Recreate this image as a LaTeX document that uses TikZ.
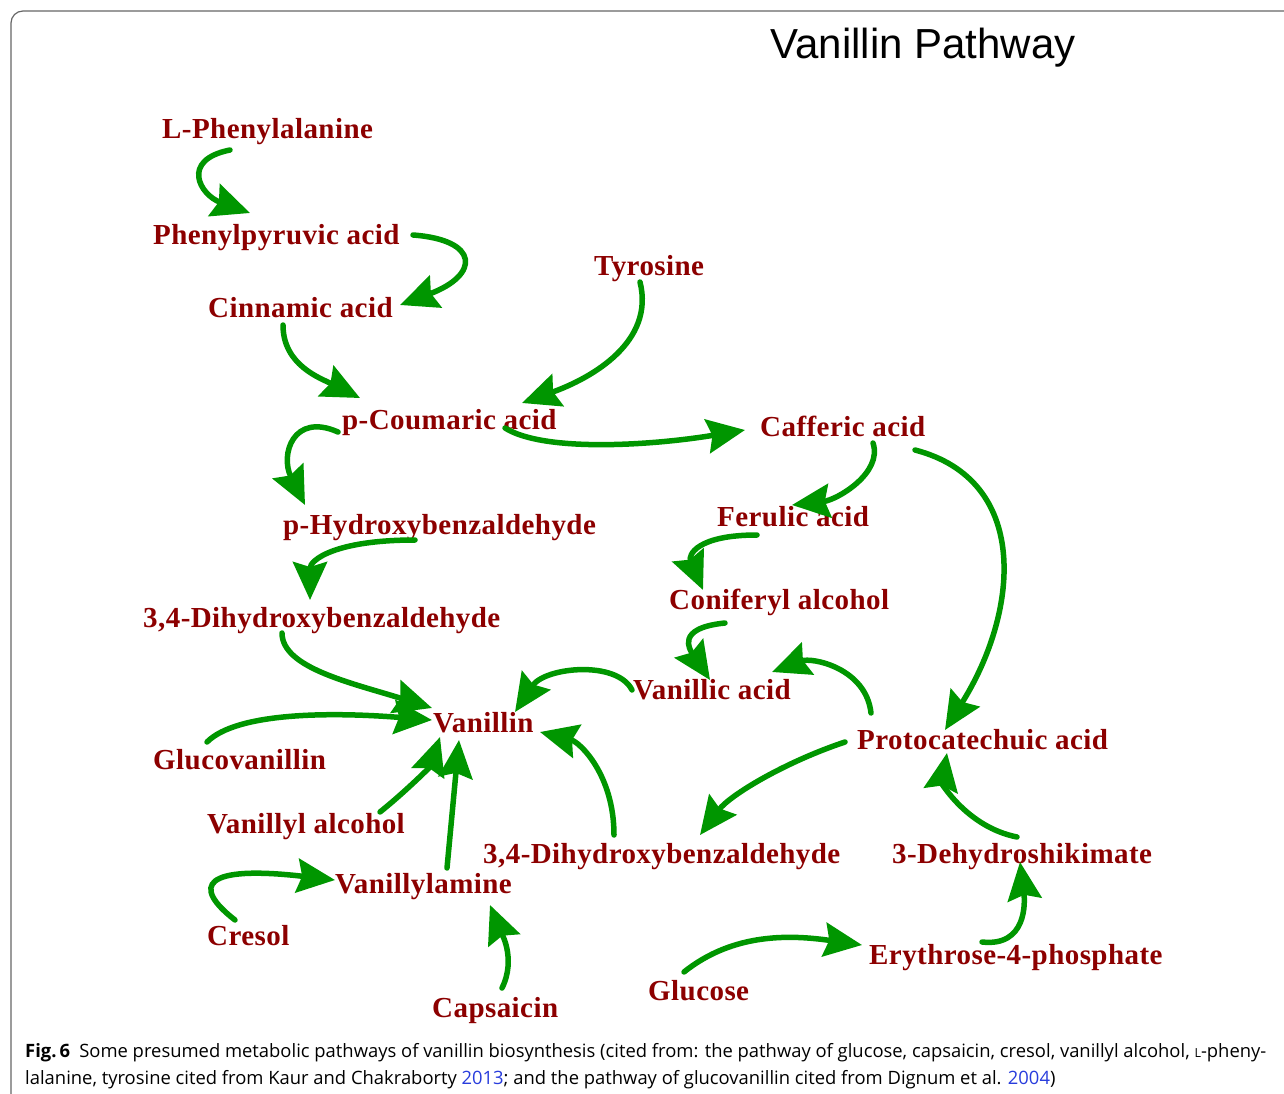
\documentclass[tikz,border=0pt]{standalone}
\usepackage{fontspec}
\setmainfont{Liberation Serif}[LetterSpace=1.5]
\newfontfamily\titlefont{Liberation Sans}
\newfontfamily\capfont{Open Sans}
\usetikzlibrary{arrows.meta}
\definecolor{chemred}{RGB}{140,0,0}
\definecolor{arrowgreen}{RGB}{0,150,0}
\definecolor{linkblue}{RGB}{40,60,220}

\begin{document}
\begin{tikzpicture}[x=1pt, y=-1pt,
    compound/.style={anchor=base west, inner sep=0pt, text=chemred, font=\fontsize{29}{29}\selectfont\bfseries},
    reaction/.style={draw=arrowgreen, line width=5.5pt, line cap=round, -{Stealth[length=38pt,width=34pt,inset=5pt]}}]

    \useasboundingbox (0,0) rectangle (1284,1094);

    % frame round the figure
    \draw[gray!80!black, line width=1.2pt, rounded corners=12pt] (11,1094) -- (11,11) -- (1284,11);

    % title
    \node[font=\titlefont\fontsize{42}{42}\selectfont] (title) at (923,48) {Vanillin Pathway};

    % phenylalanine branch
    \node[compound] (lphe) at (162,139) {L-Phenylalanine};
    \node[compound] (ppyr) at (153,244) {Phenylpyruvic acid};
    \node[compound] (cinn) at (208,317) {Cinnamic acid};
    \node[compound] (tyro) at (594,275) {Tyrosine};
    \node[compound] (pcou) at (342,429) {p-Coumaric acid};
    \node[compound] (caff) at (760,436) {Cafferic acid};
    \node[compound] (phyd) at (283,534) {p-Hydroxybenzaldehyde};
    \node[compound] (feru) at (717,526) {Ferulic acid};
    \node[compound] (coni) at (669,609) {Coniferyl alcohol};
    \node[compound] (dhbu) at (143,627) {3,4-Dihydroxybenzaldehyde};
    \node[compound] (vaac) at (633,699) {Vanillic acid};

    % vanillin and what feeds it
    \node[compound] (vani) at (433,732) {Vanillin};
    \node[compound] (prot) at (857,749) {Protocatechuic acid};
    \node[compound] (gluv) at (153,769) {Glucovanillin};
    \node[compound] (vaal) at (207,833) {Vanillyl alcohol};
    \node[compound] (dhbl) at (483,863) {3,4-Dihydroxybenzaldehyde};
    \node[compound] (dhsk) at (892,863) {3-Dehydroshikimate};
    \node[compound] (vamn) at (335,893) {Vanillylamine};
    \node[compound] (cres) at (207,945) {Cresol};
    \node[compound] (e4p) at (869,964) {Erythrose-4-phosphate};
    \node[compound] (caps) at (432,1017) {Capsaicin};
    \node[compound] (gluc) at (648,1000) {Glucose};

    % arrows, top left chain
    \draw[reaction] ([shift={(68,11)}]lphe.base west) .. controls +(-50,10) and +(-50,-18) .. ([shift={(97,-31)}]ppyr.base west);
    \draw[reaction] ([shift={(260,-9)}]ppyr.base west) .. controls +(67,5) and +(80,-30) .. ([shift={(192,-12)}]cinn.base west);
    \draw[reaction] ([shift={(75,8)}]cinn.base west) .. controls +(0,40) and +(-40,-20) .. ([shift={(18,-31)}]pcou.base west);
    \draw[reaction] ([shift={(46,7)}]tyro.base west) .. controls +(15,60) and +(70,-25) .. ([shift={(180,-26)}]pcou.base west);
    \draw[reaction] ([shift={(163,-1)}]pcou.base west) .. controls +(40,25) and +(-90,15) .. ([shift={(-15,-6)}]caff.base west);
    \draw[reaction] ([shift={(-4,3)}]pcou.base west) .. controls +(-45,-20) and +(-25,-50) .. ([shift={(22,-29)}]phyd.base west);
    \draw[reaction] ([shift={(132,6)}]phyd.base west) .. controls +(-80,0) and +(0,-40) .. ([shift={(167,-27)}]dhbu.base west);
    \draw[reaction] ([shift={(139,6)}]dhbu.base west) .. controls +(0,35) and +(-80,-25) .. ([shift={(-1,-24)}]vani.base west);

    % arrows into vanillin from below
    \draw[reaction] ([shift={(54,-27)}]gluv.base west) .. controls +(30,-30) and +(-100,-8) .. ([shift={(-1,-12)}]vani.base west);
    \draw[reaction] ([shift={(173,-21)}]vaal.base west) .. controls +(25,-20) and +(-10,30) .. ([shift={(7,5)}]vani.base west);
    \draw[reaction] ([shift={(112,-25)}]vamn.base west) -- ([shift={(26,8)}]vani.base west);
    \draw[reaction] ([shift={(28,-25)}]cres.base west) .. controls +(-45,-35) and +(-130,-15) .. ([shift={(0,-13)}]vamn.base west);
    \draw[reaction] ([shift={(70,-29)}]caps.base west) .. controls +(15,-30) and +(10,25) .. ([shift={(155,12)}]vamn.base west);
    \draw[reaction] ([shift={(131,-28)}]dhbl.base west) .. controls +(0,-60) and +(40,10) .. ([shift={(107,0)}]vani.base west);
    \draw[reaction] ([shift={(-1,-9)}]vaac.base west) .. controls +(-15,-30) and +(30,-45) .. ([shift={(82,-20)}]vani.base west);

    % right hand side
    \draw[reaction] ([shift={(56,14)}]coni.base west) .. controls +(-50,5) and +(-20,-30) .. ([shift={(77,-19)}]vaac.base west);
    \draw[reaction] ([shift={(40,9)}]feru.base west) .. controls +(-60,0) and +(-15,-35) .. ([shift={(34,-19)}]coni.base west);
    \draw[reaction] ([shift={(113,7)}]caff.base west) .. controls +(10,30) and +(45,-5) .. ([shift={(75,-21)}]feru.base west);
    \draw[reaction] ([shift={(155,14)}]caff.base west) .. controls +(115,30) and +(75,-120) .. ([shift={(88,-19)}]prot.base west);
    \draw[reaction] ([shift={(14,-36)}]prot.base west) .. controls +(-5,-45) and +(40,-15) .. ([shift={(139,-27)}]vaac.base west);
    \draw[reaction] ([shift={(-12,-7)}]prot.base west) .. controls +(-60,20) and +(30,-40) .. ([shift={(217,-28)}]dhbl.base west);
    \draw[reaction] ([shift={(125,-26)}]dhsk.base west) .. controls +(-50,-10) and +(-5,30) .. ([shift={(90,4)}]prot.base west);
    \draw[reaction] ([shift={(113,-22)}]e4p.base west) .. controls +(45,5) and +(5,40) .. ([shift={(128,-1)}]dhsk.base west);
    \draw[reaction] ([shift={(36,-28)}]gluc.base west) .. controls +(50,-40) and +(-70,-10) .. ([shift={(-7,-19)}]e4p.base west);

    % caption
    \node[anchor=base west, inner sep=0pt, font=\capfont\fontsize{18.4}{26}\selectfont] (cap1) at (25,1057)
        {\textbf{Fig.\,6}\hspace{0.5em}Some presumed metabolic pathways of vanillin biosynthesis (cited from: the pathway of glucose, capsaicin, cresol, vanillyl alcohol, {\fontsize{12.5}{13}\selectfont L}-pheny-};
    \node[anchor=base west, inner sep=0pt, font=\capfont\fontsize{18.4}{26}\selectfont] (cap2) at (25,1084)
        {lalanine, tyrosine cited from Kaur and Chakraborty \textcolor{linkblue}{2013}; and the pathway of glucovanillin cited from Dignum et al. \textcolor{linkblue}{2004})};

\end{tikzpicture}
\end{document}
